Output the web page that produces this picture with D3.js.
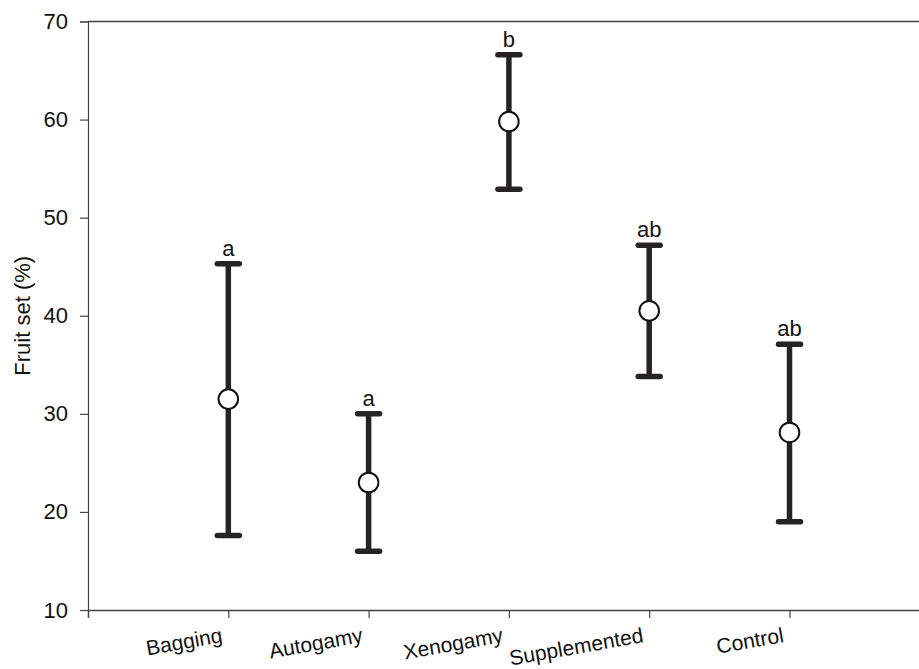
<!DOCTYPE html>
<html>
<head>
<meta charset="utf-8">
<script src="https://cdn.jsdelivr.net/npm/d3@7"></script>
<style>
  body { margin: 0; background: #fff; }
  svg { display: block; font-family: "Liberation Sans", Arial, sans-serif; }
</style>
</head>
<body>
<div id="chart"></div>
<script>
// treatments and fruit set (%)
const categories = ["Bagging", "Autogamy", "Xenogamy", "Supplemented", "Control"];
const means = [31.5, 23.0, 59.8, 40.5, 28.1];
const upper = [45.3, 30.0, 66.6, 47.2, 37.1];
const lower = [17.6, 16.0, 52.9, 33.8, 19.0];
const letters = ["a", "a", "b", "ab", "ab"];
const yTicks = [10, 20, 30, 40, 50, 60, 70];

const width = 919, height = 669;
const margin = { top: 21.5, right: 0, bottom: 59, left: 88 };

const svg = d3.select("#chart").append("svg")
    .attr("width", width)
    .attr("height", height);

const x = d3.scaleLinear()
    .domain([0, categories.length + 1])
    .range([margin.left, margin.left + 140.3 * (categories.length + 1)]);
const y = d3.scaleLinear()
    .domain([10, 70])
    .range([height - margin.bottom, margin.top]);

const axisColor = "#444";

// y axis
const yAxis = svg.append("g")
    .attr("transform", `translate(${margin.left},0)`)
    .call(d3.axisLeft(y).tickValues(yTicks).tickSize(8).tickPadding(12));
yAxis.select(".domain").attr("stroke", axisColor).attr("stroke-width", 1.2);
yAxis.selectAll(".tick line").attr("stroke", axisColor).attr("stroke-width", 1.2);
yAxis.selectAll(".tick text")
    .attr("font-size", 22)
    .attr("font-family", "Liberation Sans, Arial, sans-serif")
    .attr("fill", "#111");

// top frame line
svg.append("line")
    .attr("x1", margin.left).attr("x2", width)
    .attr("y1", y(70)).attr("y2", y(70))
    .attr("stroke", axisColor).attr("stroke-width", 1.5);

// x axis
const xAxis = svg.append("g")
    .attr("transform", `translate(0,${y(10)})`)
    .call(d3.axisBottom(x)
        .tickValues(d3.range(1, categories.length + 1))
        .tickSize(8)
        .tickFormat(""));
xAxis.select(".domain").attr("stroke", axisColor).attr("stroke-width", 1.5);
xAxis.selectAll(".tick line").attr("stroke", axisColor).attr("stroke-width", 1.2);

// rotated category labels
svg.append("g").selectAll("text")
    .data(categories)
    .join("text")
    .attr("transform", (d, i) => `translate(${x(i + 1) - 5},${y(10) + 32}) rotate(-10)`)
    .attr("text-anchor", "end")
    .attr("font-size", 21)
    .attr("fill", "#111")
    .text(d => d);

// y title
svg.append("text")
    .attr("transform", `translate(30,${(y(10) + y(70)) / 2}) rotate(-90)`)
    .attr("text-anchor", "middle")
    .attr("font-size", 22)
    .attr("fill", "#111")
    .text("Fruit set (%)");

// error bars
const barColor = "#262324";
const capW = 11;
const bars = svg.append("g").selectAll("g")
    .data(categories)
    .join("g");

bars.append("line")
    .attr("x1", (d, i) => x(i + 1)).attr("x2", (d, i) => x(i + 1))
    .attr("y1", (d, i) => y(upper[i])).attr("y2", (d, i) => y(lower[i]))
    .attr("stroke", barColor).attr("stroke-width", 5.5);

bars.selectAll("line.cap")
    .data((d, i) => [[i, upper[i]], [i, lower[i]]])
    .join("line")
    .attr("class", "cap")
    .attr("x1", d => x(d[0] + 1) - capW).attr("x2", d => x(d[0] + 1) + capW)
    .attr("y1", d => y(d[1])).attr("y2", d => y(d[1]))
    .attr("stroke", barColor).attr("stroke-width", 5.5)
    .attr("stroke-linecap", "round");

bars.append("circle")
    .attr("cx", (d, i) => x(i + 1))
    .attr("cy", (d, i) => y(means[i]))
    .attr("r", 9.8)
    .attr("fill", "#fff")
    .attr("stroke", "#111")
    .attr("stroke-width", 2);

// significance letters
bars.append("text")
    .attr("x", (d, i) => x(i + 1))
    .attr("y", (d, i) => y(upper[i]) - 8)
    .attr("text-anchor", "middle")
    .attr("font-size", 22)
    .attr("fill", "#111")
    .text((d, i) => letters[i]);
</script>
</body>
</html>
